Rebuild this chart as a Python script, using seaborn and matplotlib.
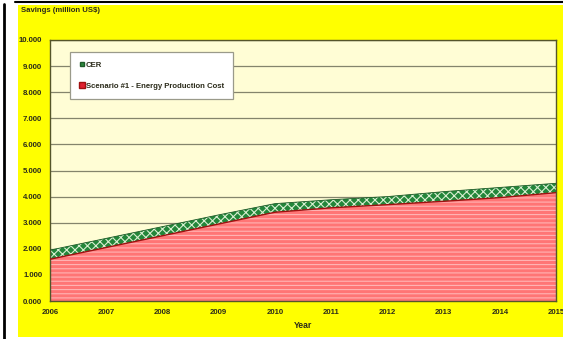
import matplotlib
matplotlib.use("Agg")
import matplotlib.pyplot as plt
from matplotlib.patches import Rectangle
from matplotlib.lines import Line2D
from matplotlib.ticker import FuncFormatter, MultipleLocator
import seaborn as sns
import pandas as pd

years = [2006, 2007, 2008, 2009, 2010, 2011, 2012, 2013, 2014, 2015]
energy_cost = [1.60, 2.05, 2.50, 2.95, 3.40, 3.57, 3.69, 3.82, 3.96, 4.15]
cer = [0.35, 0.35, 0.35, 0.35, 0.33, 0.31, 0.31, 0.37, 0.39, 0.36]

df = pd.DataFrame({"Year": years, "Energy": energy_cost, "CER": cer})
df["Total"] = df["Energy"] + df["CER"]

sns.set_style("white")
plt.rcParams["font.family"] = ["Liberation Sans", "DejaVu Sans"]
plt.rcParams["hatch.linewidth"] = 0.8

W, H = 563, 339
fig = plt.figure(figsize=(W / 100, H / 100), dpi=100, facecolor="white")

# yellow chart area and outer frame
fig.add_artist(Rectangle((18 / W, 2 / H), (W - 18) / W, (H - 7) / H,
                         transform=fig.transFigure, facecolor="#FFFF00",
                         edgecolor="none", zorder=-5))
fig.add_artist(Line2D([4 / W, 4 / W], [0, 1 - 4 / H], transform=fig.transFigure,
                      color="black", lw=2, zorder=-4))
fig.add_artist(Line2D([15 / W, 1], [1 - 1.5 / H, 1 - 1.5 / H], transform=fig.transFigure,
                      color="black", lw=1.5, zorder=-4))

left, right, top, bottom = 50, 556, 40, 301
ax = fig.add_axes([left / W, (H - bottom) / H, (right - left) / W, (bottom - top) / H])
ax.set_zorder(1)
ax.set_facecolor("#FFFDD5")

txt = "#2b2b1a"

ax.fill_between(df["Year"], 0, df["Energy"], facecolor="#FF7575", hatch="----",
                edgecolor="#FFB4B4", linewidth=0, zorder=2)
ax.fill_between(df["Year"], df["Energy"], df["Total"], facecolor="#23863A", hatch="xxxx",
                edgecolor="#D8EED0", linewidth=0, zorder=2)
sns.lineplot(data=df, x="Year", y="Energy", ax=ax, color="#A01010", lw=1.0, zorder=3)
sns.lineplot(data=df, x="Year", y="Total", ax=ax, color="#1E5A28", lw=0.6, zorder=3)

ax.set_xlim(2006, 2015)
ax.set_ylim(0, 10)
ax.yaxis.set_major_locator(MultipleLocator(1))
ax.yaxis.set_major_formatter(FuncFormatter(lambda v, p: f"{v:.3f}"))
ax.set_xticks(years)
ax.set_xticklabels([str(y) for y in years])
ax.grid(axis="y", color="#84846c", lw=0.9, zorder=1)
ax.set_axisbelow(True)
for s in ax.spines.values():
    s.set_color("#55552a")
    s.set_linewidth(1.0)

ax.tick_params(axis="both", which="both", labelsize=5.6, colors=txt, length=2.5,
               width=0.8, direction="out", pad=3)
for lbl in ax.get_xticklabels() + ax.get_yticklabels():
    lbl.set_fontweight("bold")

ax.set_xlabel("Year", fontsize=6.2, fontweight="bold", color=txt, labelpad=4)
ax.set_ylabel("")
fig.text(21 / W, 1 - 10 / H, "Savings (million US$)", fontsize=5.6, fontweight="bold",
         color=txt, va="center", ha="left")

handles = [
    Line2D([], [], marker="s", linestyle="none", markersize=3,
           markerfacecolor="#2E8B3E", markeredgecolor="#1E5A28"),
    Line2D([], [], marker="s", linestyle="none", markersize=5,
           markerfacecolor="#E02030", markeredgecolor="#A01010"),
]
leg = ax.legend(handles, ["CER", "Scenario #1 - Energy Production Cost"],
                loc="upper left", bbox_to_anchor=(0.04, 0.955), frameon=True,
                fancybox=False, framealpha=1, edgecolor="#9a9a8a",
                prop={"size": 5.6, "weight": "bold"}, labelspacing=1.8,
                handlelength=0.6, handletextpad=0.2, borderpad=1.2,
                borderaxespad=0)
for t in leg.get_texts():
    t.set_color(txt)
leg.get_frame().set_linewidth(0.9)
leg.set_zorder(5)

fig.savefig("out.png", dpi=100, facecolor="white")
